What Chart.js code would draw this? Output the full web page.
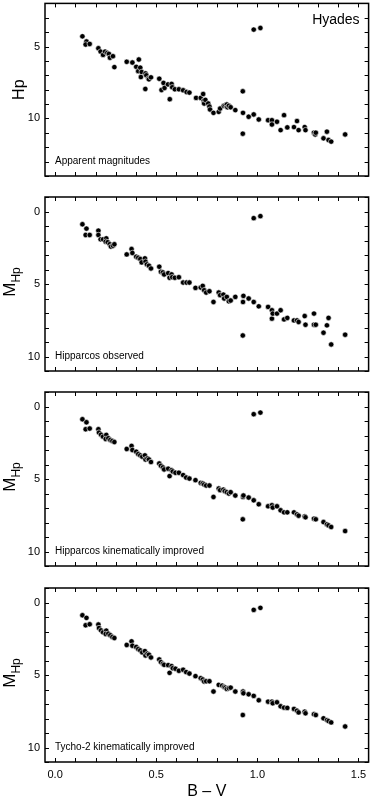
<!DOCTYPE html>
<html><head><meta charset="utf-8">
<script src="https://cdn.jsdelivr.net/npm/chart.js@4/dist/chart.umd.min.js"></script>
<style>
html,body{margin:0;padding:0;background:#fff;}
#wrap{position:relative;width:372px;height:801px;overflow:hidden;background:#fff;}
#wrap canvas{position:absolute;left:0;}
</style></head><body>
<div id="wrap">
<canvas id="c1" width="372" height="181" style="top:0px;width:372px;height:181px"></canvas>
<canvas id="c2" width="372" height="184" style="top:192px;width:372px;height:184px"></canvas>
<canvas id="c3" width="372" height="184" style="top:387px;width:372px;height:184px"></canvas>
<canvas id="c4" width="372" height="218" style="top:583px;width:372px;height:218px"></canvas>
</div>
<script>
// ---- data (B-V colour index and magnitudes) ----
const bvApparent = [0.135,0.155,0.151,0.171,0.214,0.225,0.237,0.247,0.258,0.266,0.271,0.286,0.293,0.354,0.382,0.401,0.414,0.411,0.421,0.428,0.424,0.447,0.451,0.461,0.464,0.474,0.446,0.515,0.526,0.536,0.541,0.558,0.567,0.576,0.579,0.592,0.612,0.633,0.650,0.664,0.697,0.720,0.732,0.735,0.737,0.743,0.757,0.763,0.766,0.783,0.809,0.816,0.834,0.842,0.849,0.852,0.859,0.868,0.891,0.928,0.928,0.929,0.982,1.015,0.957,0.982,1.007,1.053,1.072,1.072,1.097,1.115,1.132,1.148,1.181,1.196,1.204,1.234,1.238,1.280,1.286,1.289,1.327,1.344,1.352,1.365,1.434];
const hpApparent = [4.29,4.65,4.86,4.82,5.12,5.35,5.58,5.35,5.44,5.51,5.78,5.67,6.43,6.06,6.11,6.41,5.90,6.71,6.47,6.77,7.12,6.87,7.00,7.21,7.28,7.14,7.95,7.24,8.02,7.53,7.88,7.63,8.66,7.60,7.83,7.97,7.97,8.04,8.16,8.20,8.57,8.57,8.30,8.76,8.96,8.71,8.96,9.17,9.38,9.61,9.54,9.31,9.12,9.08,9.03,9.22,9.12,9.22,9.42,8.11,11.06,9.61,3.82,3.71,9.88,9.72,10.07,10.12,10.12,10.42,10.23,10.81,9.77,10.62,10.60,10.18,10.81,10.60,10.81,10.99,11.11,10.99,11.38,10.92,11.50,11.61,11.11];

const bvObserved = [0.135,0.155,0.151,0.171,0.214,0.214,0.225,0.237,0.253,0.250,0.260,0.270,0.276,0.286,0.293,0.354,0.378,0.382,0.401,0.411,0.421,0.428,0.444,0.447,0.454,0.464,0.474,0.515,0.523,0.533,0.539,0.559,0.566,0.576,0.579,0.592,0.612,0.633,0.650,0.664,0.694,0.720,0.730,0.737,0.747,0.763,0.783,0.809,0.816,0.832,0.836,0.849,0.859,0.868,0.891,0.928,0.929,0.931,0.982,1.015,0.957,0.982,1.007,1.053,1.072,1.072,1.076,1.097,1.115,1.132,1.148,1.181,1.196,1.204,1.234,1.238,1.280,1.280,1.289,1.327,1.344,1.352,1.365,1.434];
const mObserved = [0.88,1.18,1.62,1.62,1.32,1.62,1.92,1.92,1.85,2.08,2.12,2.26,2.42,2.36,2.26,2.96,2.59,2.86,3.12,3.19,3.28,3.51,3.23,3.46,3.65,3.74,3.93,3.81,4.16,4.20,4.34,4.25,4.57,4.34,4.53,4.57,4.53,4.90,4.90,4.90,5.27,5.24,5.13,5.43,5.59,5.50,6.24,5.59,5.77,5.73,6.00,5.89,6.19,6.14,5.89,8.55,6.24,5.82,0.46,0.32,6.00,6.24,6.54,6.58,6.81,7.39,7.04,7.04,6.81,7.44,7.34,7.51,7.51,7.62,7.21,7.81,7.04,7.81,7.81,8.36,7.85,7.34,9.17,8.50];

const bvHipKin = [0.135,0.155,0.151,0.171,0.214,0.217,0.227,0.237,0.253,0.250,0.263,0.273,0.283,0.293,0.354,0.378,0.382,0.401,0.411,0.421,0.431,0.444,0.447,0.457,0.464,0.474,0.515,0.523,0.533,0.539,0.559,0.566,0.576,0.582,0.595,0.612,0.633,0.648,0.664,0.694,0.720,0.730,0.737,0.747,0.763,0.783,0.809,0.816,0.832,0.839,0.849,0.859,0.868,0.891,0.928,0.929,0.931,0.982,1.015,0.957,0.982,1.007,1.053,1.072,1.076,1.097,1.115,1.132,1.148,1.181,1.196,1.204,1.234,1.238,1.280,1.289,1.327,1.344,1.352,1.365,1.434];
const mHipKin = [0.88,1.09,1.57,1.52,1.57,1.80,1.94,2.08,1.96,2.24,2.19,2.31,2.38,2.45,2.93,2.72,3.00,3.12,3.28,3.37,3.46,3.37,3.65,3.58,3.65,3.83,3.93,4.09,4.20,4.34,4.29,4.80,4.39,4.48,4.57,4.57,4.73,4.90,4.97,5.08,5.27,5.31,5.38,5.45,5.45,6.24,5.66,5.77,5.73,5.84,5.91,6.00,5.91,6.14,7.78,6.24,6.14,0.53,0.42,6.28,6.47,6.74,6.88,6.81,6.97,6.88,7.16,7.30,7.30,7.30,7.44,7.53,7.58,7.64,7.74,7.78,7.97,8.13,8.20,8.31,8.59];

const bvTycKin = [0.135,0.155,0.151,0.171,0.214,0.217,0.227,0.237,0.253,0.250,0.263,0.273,0.283,0.293,0.354,0.378,0.382,0.401,0.411,0.421,0.431,0.444,0.447,0.457,0.464,0.474,0.515,0.523,0.533,0.539,0.559,0.566,0.576,0.582,0.595,0.612,0.633,0.648,0.664,0.694,0.720,0.730,0.737,0.747,0.763,0.783,0.809,0.826,0.836,0.842,0.849,0.859,0.868,0.891,0.928,0.929,0.931,0.982,1.015,0.957,0.982,1.007,1.053,1.072,1.076,1.097,1.115,1.132,1.148,1.181,1.196,1.204,1.234,1.238,1.280,1.289,1.327,1.344,1.352,1.365,1.434];
const mTycKin = [0.88,1.06,1.57,1.50,1.52,1.76,1.92,2.06,1.94,2.17,2.15,2.26,2.38,2.45,2.93,2.68,2.98,3.07,3.21,3.30,3.44,3.35,3.65,3.53,3.60,3.79,3.93,4.11,4.23,4.30,4.32,4.85,4.39,4.53,4.57,4.71,4.64,4.80,4.90,5.08,5.22,5.31,5.45,5.43,5.43,6.14,5.68,5.73,5.82,5.87,5.96,5.91,5.87,6.14,7.76,6.14,6.26,0.51,0.37,6.33,6.44,6.74,6.84,6.84,6.95,6.88,7.16,7.25,7.27,7.34,7.46,7.58,7.53,7.64,7.71,7.76,7.99,8.11,8.18,8.27,8.55];

const panelNotes = ['Apparent magnitudes','Hipparcos observed','Hipparcos kinematically improved','Tycho-2 kinematically improved'];
const xTickValues = [0.0,0.1,0.2,0.3,0.4,0.5,0.6,0.7,0.8,0.9,1.0,1.1,1.2,1.3,1.4,1.5];
const xTickLabels = ['0.0','0.5','1.0','1.5'];
const xAxisTitle = 'B \u2013 V';
const clusterName = 'Hyades';

// ---- drawing ----
const FONT = "'Liberation Sans', Arial, Helvetica, sans-serif";
const X_MIN = -0.05, X_MAX = 1.55;

const framePlugin = {
  id: 'frame',
  afterDraw(chart) {
    const o = chart.options.plugins.frame;
    const {ctx, chartArea: a} = chart;
    const x = chart.scales.x, y = chart.scales.y;
    ctx.save();
    ctx.strokeStyle = '#000';
    ctx.lineWidth = 1;
    ctx.beginPath();
    for (const v of xTickValues) {
      const px = Math.round(x.getPixelForValue(v)) + 0.5;
      ctx.moveTo(px, a.top); ctx.lineTo(px, a.top + 4);
      ctx.moveTo(px, a.bottom); ctx.lineTo(px, a.bottom - 4);
    }
    for (let v = Math.ceil(y.min); v <= y.max; v++) {
      const py = Math.round(y.getPixelForValue(v)) + 0.5;
      ctx.moveTo(a.left, py); ctx.lineTo(a.left + 4, py);
      ctx.moveTo(a.right, py); ctx.lineTo(a.right - 4, py);
    }
    ctx.stroke();
    ctx.lineWidth = 1.5;
    ctx.strokeRect(a.left, a.top, a.right - a.left, a.bottom - a.top);

    // y-axis title (rotated, with optional subscript)
    const cy = (a.top + a.bottom) / 2 + (o.titleShift || 0);
    ctx.fillStyle = '#000';
    ctx.translate(o.titleBaseX, cy);
    ctx.rotate(-Math.PI / 2);
    ctx.textBaseline = 'alphabetic';
    ctx.textAlign = 'left';
    ctx.font = o.mainSize + 'px ' + FONT;
    const wMain = ctx.measureText(o.main).width;
    let wSub = 0;
    if (o.sub) { ctx.font = o.subSize + 'px ' + FONT; wSub = ctx.measureText(o.sub).width; }
    const start = -(wMain + wSub) / 2;
    ctx.font = o.mainSize + 'px ' + FONT;
    ctx.fillText(o.main, start, 0);
    if (o.sub) {
      ctx.font = o.subSize + 'px ' + FONT;
      ctx.fillText(o.sub, start + wMain, o.subDrop);
    }
    ctx.setTransform(1, 0, 0, 1, 0, 0);

    // annotation inside the panel
    ctx.font = '10px ' + FONT;
    ctx.textAlign = 'left';
    ctx.textBaseline = 'middle';
    ctx.fillText(o.note, a.left + 10, a.bottom - 15);
    if (o.cluster) {
      ctx.font = '14px ' + FONT;
      ctx.textAlign = 'right';
      ctx.fillText(o.cluster, a.right - 9, a.top + 17);
    }
    ctx.restore();
  }
};

function makePanel(id, bv, mag, yMin, yMax, frameOpts, isBottom, padTop, padBottom) {
  const pts = bv.map((b, i) => ({x: b, y: mag[i]})).filter(p => p.y !== undefined);
  return new Chart(document.getElementById(id), {
    type: 'scatter',
    data: {datasets: [{
      data: pts,
      pointRadius: 2.7,
      pointHoverRadius: 2.7,
      pointBackgroundColor: '#000',
      pointBorderColor: 'rgba(255,255,255,0.85)',
      pointBorderWidth: 0.7
    }]},
    options: {
      responsive: false,
      animation: false,
      events: [],
      layout: {padding: {left: 0, right: 1, top: padTop, bottom: padBottom}},
      plugins: {legend: {display: false}, tooltip: {enabled: false}, frame: frameOpts},
      scales: {
        x: {
          type: 'linear', min: X_MIN, max: X_MAX,
          display: isBottom,
          grid: {display: false, drawTicks: false},
          border: {display: false},
          afterBuildTicks: (s) => { s.ticks = xTickValues.map(v => ({value: v})); },
          ticks: {
            autoSkip: false, maxRotation: 0, minRotation: 0, padding: 6,
            color: '#000', font: {family: FONT, size: 11},
            callback: (v) => {
              const k = Math.round(v * 2);
              if (Math.abs(v * 2 - k) < 1e-6 && k >= 0 && k < xTickLabels.length) return xTickLabels[k];
              return '';
            }
          },
          title: {display: isBottom, text: xAxisTitle, color: '#000',
                  font: {family: FONT, size: 16}, padding: {top: 0, bottom: 0}},
          afterFit: (s) => {
            if (isBottom) s.height = 39;
            s.paddingLeft = 0; s.paddingRight = 0;
          }
        },
        y: {
          type: 'linear', min: yMin, max: yMax, reverse: true,
          grid: {display: false, drawTicks: false},
          border: {display: false},
          ticks: {
            stepSize: 1, autoSkip: false, padding: 5,
            color: '#000', font: {family: FONT, size: 11},
            callback: (v) => (Math.abs(v % 5) < 1e-6 ? String(v) : '')
          },
          afterFit: (s) => { s.width = 45; s.paddingTop = 0; s.paddingBottom = 0; }
        }
      }
    },
    plugins: [framePlugin]
  });
}

const hpTitle = {main: 'Hp', sub: null, mainSize: 16, titleBaseX: 24};
const mTitle = {main: 'M', sub: 'Hp', mainSize: 17, subSize: 12, subDrop: 5, titleBaseX: 15, titleShift: -2};

makePanel('c1', bvApparent, hpApparent, 2, 14,
  Object.assign({}, hpTitle, {note: panelNotes[0], cluster: clusterName}), false, 1, 5);
makePanel('c2', bvObserved, mObserved, -1, 11,
  Object.assign({}, mTitle, {note: panelNotes[1]}), false, 5, 5);
makePanel('c3', bvHipKin, mHipKin, -1, 11,
  Object.assign({}, mTitle, {note: panelNotes[2]}), false, 5, 5);
makePanel('c4', bvTycKin, mTycKin, -1, 11,
  Object.assign({}, mTitle, {note: panelNotes[3]}), true, 5, 0);
</script>
</body></html>
